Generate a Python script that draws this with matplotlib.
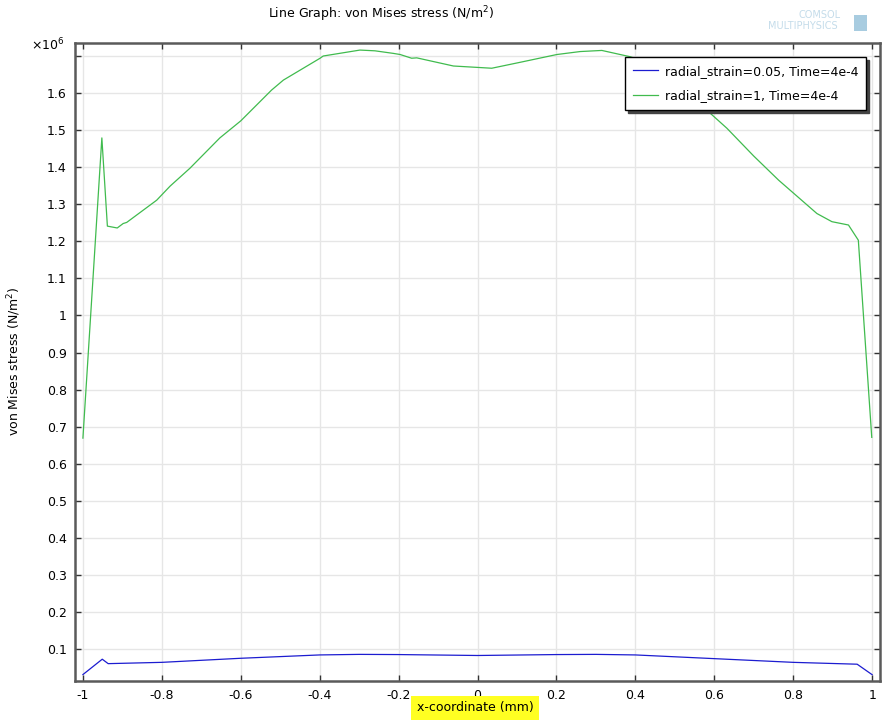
import numpy as np
import matplotlib.pyplot as plt
from matplotlib.patches import Rectangle

# x-coordinate (mm) and von Mises stress (x1e6 N/m^2)
x_strain1 = [-1.0, -0.952, -0.938, -0.913, -0.898, -0.889, -0.813, -0.779, -0.729, -0.653,
             -0.6, -0.522, -0.492, -0.399, -0.391, -0.298, -0.260, -0.213, -0.196, -0.167,
             -0.154, -0.061, 0.036, 0.108, 0.201, 0.260, 0.315, 0.387, 0.45, 0.5,
             0.55, 0.585, 0.632, 0.70, 0.763, 0.860, 0.898, 0.940, 0.965, 0.999]
s_strain1 = [0.669, 1.479, 1.241, 1.236, 1.248, 1.251, 1.311, 1.349, 1.397, 1.479,
             1.525, 1.608, 1.635, 1.694, 1.700, 1.716, 1.714, 1.707, 1.704, 1.694,
             1.695, 1.673, 1.667, 1.683, 1.704, 1.712, 1.715, 1.698, 1.675, 1.64,
             1.59, 1.55, 1.505, 1.43, 1.365, 1.275, 1.253, 1.244, 1.203, 0.671]

x_strain005 = [-1.0, -0.951, -0.936, -0.8, -0.6, -0.4, -0.3, -0.2, 0.0, 0.2,
               0.3, 0.4, 0.6, 0.8, 0.962, 1.0]
s_strain005 = [0.031, 0.0725, 0.0605, 0.064, 0.075, 0.084, 0.0855, 0.085, 0.0825, 0.085,
               0.0855, 0.084, 0.074, 0.064, 0.059, 0.0307]

labels = ['radial_strain=0.05, Time=4e-4', 'radial_strain=1, Time=4e-4']

xticks = np.round(np.arange(-1, 1.01, 0.2), 1)
yticks = np.round(np.arange(0.1, 1.71, 0.1), 1)


def fmt(v):
    s = ('%.1f' % v).rstrip('0').rstrip('.')
    return '0' if s in ('-0', '') else s


fig = plt.figure(figsize=(8.91, 7.22), dpi=100)
ax = fig.add_axes([0.0842, 0.0568, 0.9035, 0.8836])

ax.plot(x_strain005, s_strain005, color='#1c1cd0', lw=0.9, label=labels[0])
ax.plot(x_strain1, s_strain1, color='#40bb4e', lw=0.9, label=labels[1])

ax.set_xlim(-1.02, 1.02)
ax.set_ylim(0.0137, 1.735)
ax.set_xticks(xticks)
ax.set_xticklabels([fmt(v) for v in xticks])
ax.set_yticks(yticks)
ax.set_yticklabels([fmt(v) if v < 1.65 else '' for v in yticks])
ax.grid(True, color='#e6e6e6', lw=1)
ax.set_axisbelow(True)
ax.tick_params(direction='in', length=4, width=1, colors='#333333',
               labelcolor='black', labelsize=9, top=True, right=True, pad=6)
for sp in ax.spines.values():
    sp.set_color('#5a5a5a')
    sp.set_linewidth(1.8)

leg = ax.legend(loc='upper right', bbox_to_anchor=(0.9826, 0.978), borderaxespad=0,
                fancybox=False, shadow={'color': '#444444', 'alpha': 1},
                edgecolor='black', fontsize=9, handlelength=2.0, framealpha=1,
                labelspacing=0.95, borderpad=0.6, handletextpad=0.6)
leg.get_frame().set_linewidth(1)

fig.text(381 / 891, 1 - 14 / 722, 'Line Graph: von Mises stress (N/m$^2$)',
         ha='center', va='center', fontsize=9)
fig.text(48 / 891, 1 - 45 / 722, r'$\times$10$^6$', ha='center', va='center', fontsize=9)
fig.text(14 / 891, 0.5, 'von Mises stress (N/m$^2$)', rotation=90,
         ha='center', va='center', fontsize=9)
fig.text(475 / 891, 1 - 708 / 722, 'x-coordinate (mm)', ha='center', va='center', fontsize=9,
         bbox=dict(facecolor='#ffff22', edgecolor='none', pad=4))

# faint COMSOL logo
fig.text(820 / 891, 1 - 15 / 722, 'COMSOL', ha='center', va='center', fontsize=7,
         color='#c4dcea')
fig.text(803 / 891, 1 - 26 / 722, 'MULTIPHYSICS', ha='center', va='center', fontsize=7,
         color='#c4dcea')
fig.patches.append(Rectangle((854 / 891, 1 - 31 / 722), 13 / 891, 16 / 722,
                             transform=fig.transFigure, facecolor='#a8cce0',
                             edgecolor='none'))

fig.savefig('out.png', dpi=100)
